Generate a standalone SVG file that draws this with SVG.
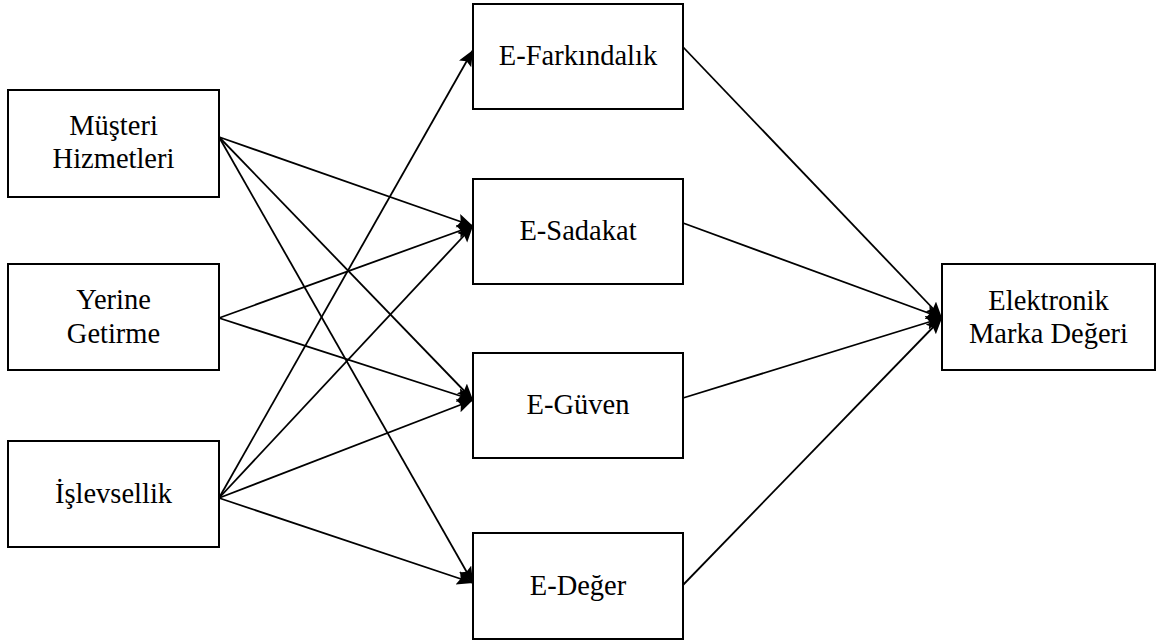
<svg xmlns="http://www.w3.org/2000/svg" width="1158" height="641" viewBox="0 0 1158 641">
<style>
.box{fill:#fff;stroke:#000;stroke-width:2}
.t{font-family:"Liberation Serif","Times New Roman",Tinos,"DejaVu Serif","Noto Serif",serif;font-size:28.5px;fill:#000;text-anchor:middle}
.c{stroke:#000;stroke-width:1.8;fill:none;marker-end:url(#ah)}
</style>
<defs>
<marker id="ah" markerUnits="userSpaceOnUse" markerWidth="18" markerHeight="16" refX="16" refY="7" orient="auto">
<path d="M0,0 L16,7 L0,14 L3,7 z" fill="#000"/>
</marker>
</defs>
<rect width="1158" height="641" fill="#fff"/>
<g id="connectors">
<line class="c" x1="219" y1="137" x2="473" y2="226"/>
<line class="c" x1="219" y1="137" x2="473" y2="400"/>
<line class="c" x1="219" y1="137" x2="473" y2="583"/>
<line class="c" x1="219" y1="318" x2="473" y2="226"/>
<line class="c" x1="219" y1="318" x2="473" y2="400"/>
<line class="c" x1="219" y1="498" x2="473" y2="50"/>
<line class="c" x1="219" y1="498" x2="473" y2="226"/>
<line class="c" x1="219" y1="498" x2="473" y2="400"/>
<line class="c" x1="219" y1="498" x2="473" y2="583"/>
<line class="c" x1="683" y1="47" x2="942" y2="318"/>
<line class="c" x1="683" y1="223" x2="942" y2="318"/>
<line class="c" x1="683" y1="398" x2="942" y2="318"/>
<line class="c" x1="683" y1="585" x2="942" y2="318"/>
</g>
<g id="musteri"><rect class="box" x="8" y="90" width="211" height="107"/><text class="t" x="113.5" y="135">Müşteri</text><text class="t" x="113.5" y="168">Hizmetleri</text></g>
<g id="yerine"><rect class="box" x="8" y="264" width="211" height="106"/><text class="t" x="113.5" y="309">Yerine</text><text class="t" x="113.5" y="343">Getirme</text></g>
<g id="islevsellik"><rect class="box" x="8" y="441" width="211" height="106"/><text class="t" x="113.5" y="503">İşlevsellik</text></g>
<g id="efarkindalik"><rect class="box" x="473" y="4" width="210" height="105"/><text class="t" x="578" y="65">E-Farkındalık</text></g>
<g id="esadakat"><rect class="box" x="473" y="179" width="210" height="105"/><text class="t" x="578" y="240">E-Sadakat</text></g>
<g id="eguven"><rect class="box" x="473" y="353" width="210" height="105"/><text class="t" x="578" y="414">E-Güven</text></g>
<g id="edeger"><rect class="box" x="473" y="533" width="210" height="106"/><text class="t" x="578" y="595">E-Değer</text></g>
<g id="elektronik"><rect class="box" x="942" y="264" width="213" height="106"/><text class="t" x="1048.5" y="310">Elektronik</text><text class="t" x="1048.5" y="343">Marka Değeri</text></g>
</svg>
